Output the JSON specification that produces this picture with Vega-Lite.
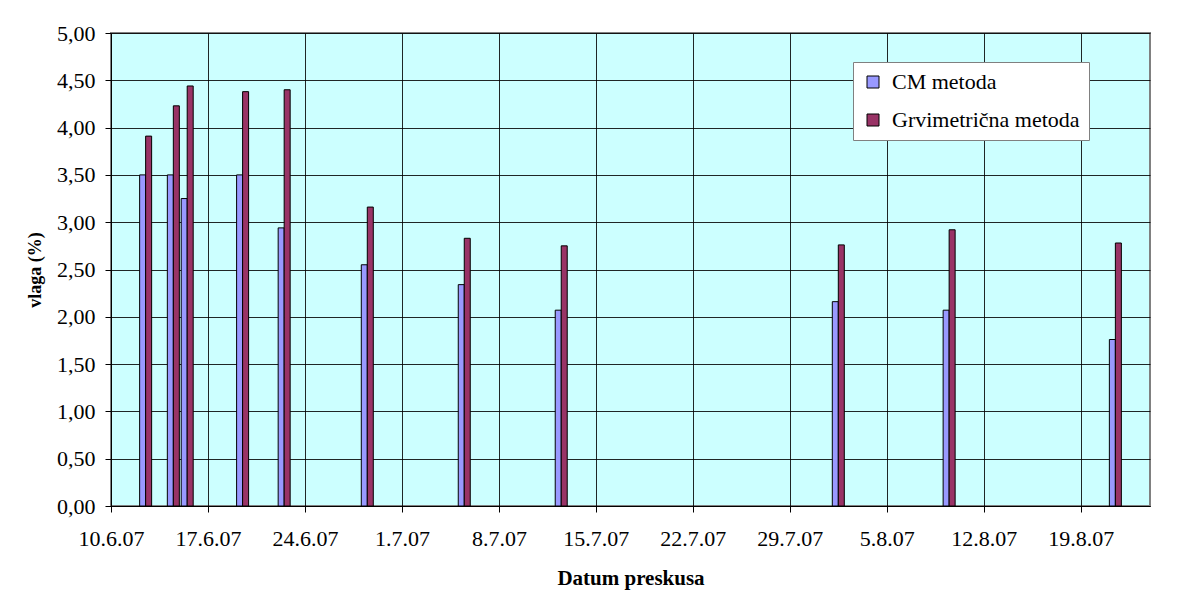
{
  "$schema": "https://vega.github.io/schema/vega-lite/v6.json",
  "autosize": "none",
  "width": 1039,
  "height": 473,
  "padding": {"left": 111, "top": 33, "right": 40, "bottom": 95},
  "background": "white",
  "config": {
    "view": {"fill": "#CCFFFF", "stroke": "#808080", "strokeWidth": 2},
    "font": "Liberation Serif",
    "axis": {"labelFont": "Liberation Serif", "titleFont": "Liberation Serif"},
    "legend": {"labelFont": "Liberation Serif", "titleFont": "Liberation Serif"}
  },
  "data": {
    "values": [
      {"dan": "2007-06-12", "metoda": "CM metoda", "vlaga": 3.50},
      {"dan": "2007-06-12", "metoda": "Grvimetrična metoda", "vlaga": 3.91},
      {"dan": "2007-06-14", "metoda": "CM metoda", "vlaga": 3.50},
      {"dan": "2007-06-14", "metoda": "Grvimetrična metoda", "vlaga": 4.23},
      {"dan": "2007-06-15", "metoda": "CM metoda", "vlaga": 3.25},
      {"dan": "2007-06-15", "metoda": "Grvimetrična metoda", "vlaga": 4.44},
      {"dan": "2007-06-19", "metoda": "CM metoda", "vlaga": 3.50},
      {"dan": "2007-06-19", "metoda": "Grvimetrična metoda", "vlaga": 4.38},
      {"dan": "2007-06-22", "metoda": "CM metoda", "vlaga": 2.94},
      {"dan": "2007-06-22", "metoda": "Grvimetrična metoda", "vlaga": 4.40},
      {"dan": "2007-06-28", "metoda": "CM metoda", "vlaga": 2.55},
      {"dan": "2007-06-28", "metoda": "Grvimetrična metoda", "vlaga": 3.16},
      {"dan": "2007-07-05", "metoda": "CM metoda", "vlaga": 2.34},
      {"dan": "2007-07-05", "metoda": "Grvimetrična metoda", "vlaga": 2.83},
      {"dan": "2007-07-12", "metoda": "CM metoda", "vlaga": 2.07},
      {"dan": "2007-07-12", "metoda": "Grvimetrična metoda", "vlaga": 2.75},
      {"dan": "2007-08-01", "metoda": "CM metoda", "vlaga": 2.16},
      {"dan": "2007-08-01", "metoda": "Grvimetrična metoda", "vlaga": 2.76},
      {"dan": "2007-08-09", "metoda": "CM metoda", "vlaga": 2.07},
      {"dan": "2007-08-09", "metoda": "Grvimetrična metoda", "vlaga": 2.92},
      {"dan": "2007-08-21", "metoda": "CM metoda", "vlaga": 1.76},
      {"dan": "2007-08-21", "metoda": "Grvimetrična metoda", "vlaga": 2.78}
    ]
  },
  "encoding": {
    "x": {
      "field": "dan",
      "type": "temporal",
      "timeUnit": "utcyearmonthdate",
      "bandPosition": 0.5,
      "scale": {
        "type": "utc",
        "nice": false,
        "domain": [
          {"year": 2007, "month": 6, "date": 10, "utc": true},
          {"year": 2007, "month": 8, "date": 24, "utc": true}
        ]
      },
      "axis": {
        "values": [
          {"year": 2007, "month": 6, "date": 10, "utc": true},
          {"year": 2007, "month": 6, "date": 17, "utc": true},
          {"year": 2007, "month": 6, "date": 24, "utc": true},
          {"year": 2007, "month": 7, "date": 1, "utc": true},
          {"year": 2007, "month": 7, "date": 8, "utc": true},
          {"year": 2007, "month": 7, "date": 15, "utc": true},
          {"year": 2007, "month": 7, "date": 22, "utc": true},
          {"year": 2007, "month": 7, "date": 29, "utc": true},
          {"year": 2007, "month": 8, "date": 5, "utc": true},
          {"year": 2007, "month": 8, "date": 12, "utc": true},
          {"year": 2007, "month": 8, "date": 19, "utc": true}
        ],
        "labelExpr": "utcFormat(datum.value, '%-d.%-m.%y')",
        "grid": true,
        "gridColor": "#000000",
        "gridOpacity": 0.85,
        "domainColor": "#000000",
        "tickColor": "#000000",
        "tickSize": 6,
        "labelFontSize": 22,
        "labelColor": "#000000",
        "labelPadding": 16,
        "labelFlush": false,
        "labelOverlap": false,
        "title": "Datum preskusa",
        "titleFontSize": 21,
        "titleFontWeight": "bold",
        "titleColor": "#000000",
        "titlePadding": 18
      }
    },
    "y": {
      "field": "vlaga",
      "type": "quantitative",
      "scale": {"domain": [0, 5], "nice": false},
      "axis": {
        "values": [0, 0.5, 1, 1.5, 2, 2.5, 3, 3.5, 4, 4.5, 5],
        "labelExpr": "replace(format(datum.value, '.2f'), '.', ',')",
        "grid": true,
        "gridColor": "#000000",
        "gridOpacity": 0.85,
        "domainColor": "#000000",
        "tickColor": "#000000",
        "tickSize": 6,
        "labelFontSize": 22,
        "labelColor": "#000000",
        "labelPadding": 10,
        "labelFlush": false,
        "labelOverlap": false,
        "title": "vlaga (%)",
        "titleFontSize": 18,
        "titleFontWeight": "bold",
        "titleColor": "#000000",
        "titlePadding": 12
      }
    },
    "color": {
      "field": "metoda",
      "type": "nominal",
      "scale": {"domain": ["CM metoda", "Grvimetrična metoda"], "range": ["#9999FF", "#993366"]},
      "legend": {
        "title": null,
        "orient": "none",
        "legendX": 742,
        "legendY": 29,
        "fillColor": "white",
        "strokeColor": "#808080",
        "padding": 9,
        "symbolType": "square",
        "symbolSize": 144,
        "symbolStrokeColor": "#000000",
        "symbolStrokeWidth": 1,
        "symbolOpacity": 1,
        "labelFontSize": 22,
        "labelLimit": 0,
        "labelColor": "#000000",
        "labelOffset": 8,
        "rowPadding": 16
      }
    }
  },
  "layer": [
    {
      "transform": [{"filter": "datum.metoda == 'CM metoda'"}],
      "mark": {"type": "bar", "width": 6, "xOffset": -3, "stroke": "#000000", "strokeWidth": 1, "opacity": 1}
    },
    {
      "transform": [{"filter": "datum.metoda != 'CM metoda'"}],
      "mark": {"type": "bar", "width": 6, "xOffset": 3, "stroke": "#000000", "strokeWidth": 1, "opacity": 1}
    }
  ]
}
